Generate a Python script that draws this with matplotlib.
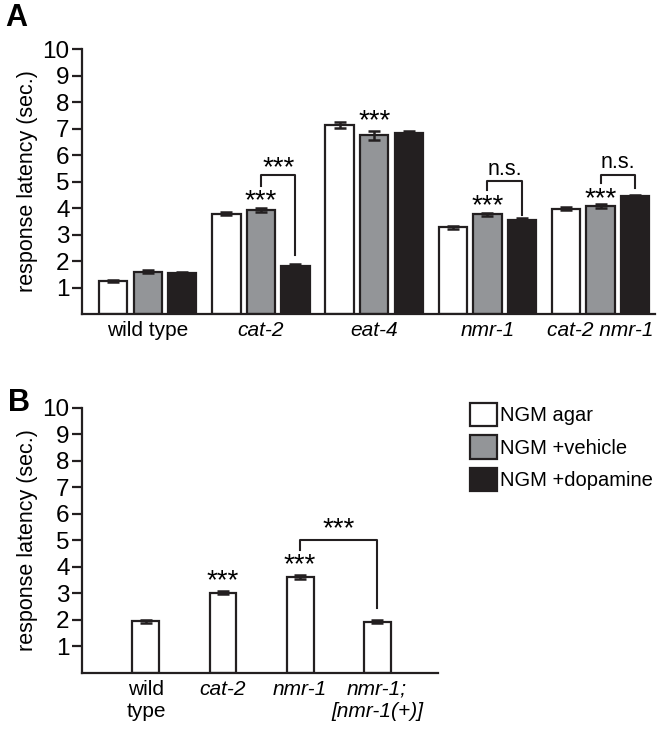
import matplotlib.pyplot as plt
import numpy as np
from matplotlib.patches import Patch

plt.rcParams["font.family"] = ["Liberation Sans", "DejaVu Sans"]
plt.rcParams["font.size"] = 13

# panel A
GRUPOS_A = ["wild type", "cat-2", "eat-4", "nmr-1", "cat-2 nmr-1"]
ITALICO_A = [False, True, True, True, True]
AGAR = [1.25, 3.78, 7.13, 3.27, 3.98]
AGAR_ERR = [0.05, 0.06, 0.12, 0.07, 0.06]
VEICULO = [1.60, 3.93, 6.75, 3.77, 4.08]
VEICULO_ERR = [0.06, 0.07, 0.17, 0.06, 0.07]
DOPAMINA = [1.53, 1.83, 6.82, 3.53, 4.44]
DOPAMINA_ERR = [0.04, 0.04, 0.10, 0.08, 0.04]

# panel B
GRUPOS_B = ["wild\ntype", "cat-2", "nmr-1", "nmr-1;\n[nmr-1(+)]"]
ITALICO_B = [False, True, True, True]
AGAR_B = [1.94, 3.01, 3.62, 1.92]
AGAR_B_ERR = [0.05, 0.06, 0.07, 0.06]

SERIES = ["NGM agar", "NGM +vehicle", "NGM +dopamine"]
CORES = ["white", "#939598", "#231f20"]
PRETO = "#231f20"
LW = 1.6


def estilo(ax, labels, italico):
    ax.set_ylim(0, 10)
    ax.set_yticks(range(1, 11))
    ax.spines["top"].set_visible(False)
    ax.spines["right"].set_visible(False)
    for s in ["left", "bottom"]:
        ax.spines[s].set_linewidth(LW)
        ax.spines[s].set_color(PRETO)
    ax.spines["left"].set_bounds(0, 10)
    ax.tick_params(axis="y", length=7, width=LW, color=PRETO, labelsize=17.5, pad=2)
    ax.tick_params(axis="x", length=0, labelsize=15, pad=5)
    ax.set_xticks(range(len(labels)))
    ax.set_xticklabels(labels, va="top", linespacing=1.2)
    for t, it in zip(ax.get_xticklabels(), italico):
        if it:
            t.set_style("italic")
    ax.set_ylabel("response latency (sec.)", fontsize=15.5, labelpad=3)


def estrelas(ax, x, y):
    ax.text(x, y, "***", ha="center", va="center", fontsize=20)


def colchete(ax, x1, x2, topo, y1, y2, texto, ty):
    ax.plot([x1, x1, x2, x2], [y1, topo, topo, y2], color=PRETO, lw=1.5)
    if texto == "***":
        estrelas(ax, (x1 + x2) / 2, ty)
    else:
        ax.text((x1 + x2) / 2, ty, texto, ha="center", va="center", fontsize=15.5)


fig = plt.figure(figsize=(6.64, 7.34), dpi=100)

# ---------- A ----------
axA = fig.add_axes([0.1235, 0.5722, 0.8629, 0.361])
x = np.arange(len(GRUPOS_A))
w = 0.25
off = 0.305
for i, (vals, errs) in enumerate([(AGAR, AGAR_ERR), (VEICULO, VEICULO_ERR), (DOPAMINA, DOPAMINA_ERR)]):
    axA.bar(x + (i - 1) * off, vals, w, color=CORES[i], edgecolor=PRETO, linewidth=LW,
            yerr=errs, capsize=4, error_kw=dict(ecolor=PRETO, elinewidth=1.8, capthick=1.8), zorder=2)
axA.set_xlim(-0.58, 4.48)
estilo(axA, GRUPOS_A, ITALICO_A)

estrelas(axA, 1, 4.25)
colchete(axA, 1, 1 + off, 5.25, 4.82, 2.24, "***", 5.52)
estrelas(axA, 2, 7.28)
estrelas(axA, 3, 4.05)
colchete(axA, 3, 3 + off, 5.03, 4.68, 3.72, "n.s.", 5.45)
estrelas(axA, 4, 4.35)
colchete(axA, 4, 4 + off, 5.25, 4.93, 4.75, "n.s.", 5.7)

fig.text(0.008, 0.975, "A", fontsize=22, fontweight="bold", va="center")

# ---------- B ----------
axB = fig.add_axes([0.1235, 0.0836, 0.5361, 0.3609])
xb = np.arange(len(GRUPOS_B))
axB.bar(xb, AGAR_B, 0.35, color="white", edgecolor=PRETO, linewidth=LW,
        yerr=AGAR_B_ERR, capsize=4, error_kw=dict(ecolor=PRETO, elinewidth=1.8, capthick=1.8), zorder=2)
axB.set_xlim(-0.83, 3.79)
estilo(axB, GRUPOS_B, ITALICO_B)

estrelas(axB, 1, 3.47)
estrelas(axB, 2, 4.07)
colchete(axB, 2, 3, 5.0, 4.63, 2.44, "***", 5.4)

fig.text(0.012, 0.451, "B", fontsize=22, fontweight="bold", va="center")

handles = [Patch(facecolor=c, edgecolor=PRETO, linewidth=LW) for c in CORES]
fig.legend(handles, SERIES, loc="upper left", bbox_to_anchor=(0.695, 0.462), frameon=False,
           fontsize=14.5, handlelength=1.35, handleheight=1.4, handletextpad=0.15,
           labelspacing=0.45, borderaxespad=0)

fig.savefig("out.png", dpi=100)
